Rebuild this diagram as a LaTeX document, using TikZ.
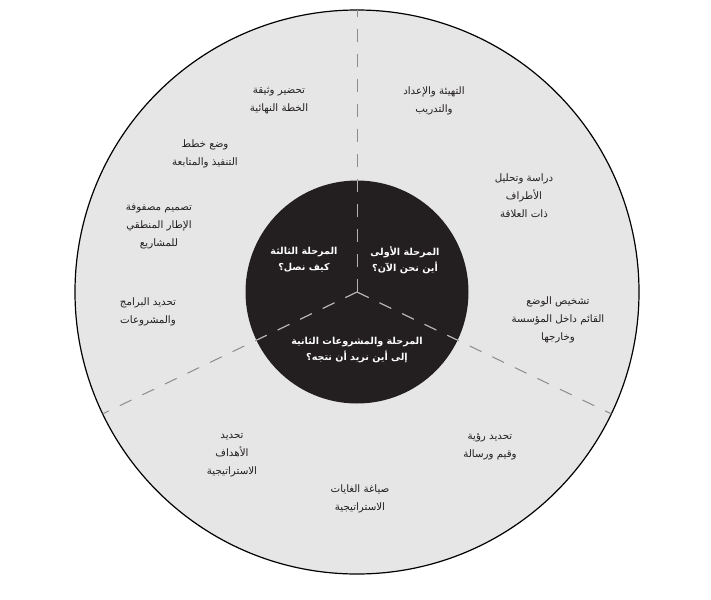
\documentclass[tikz,border=0pt]{standalone}
\usepackage{fontspec}
\usetikzlibrary{calc}
\newfontfamily\arabicfont[Script=Arabic]{DejaVu Sans}
\TeXXeTstate=1
\definecolor{ringfill}{HTML}{E6E6E6}
\definecolor{corefill}{HTML}{231F20}
\definecolor{inkc}{HTML}{231F20}
\definecolor{dashout}{HTML}{8C8C8C}
\definecolor{dashin}{HTML}{B4B4B4}
\tikzset{
  outerlbl/.style={align=center, text=inkc, font=\arabicfont\fontsize{7.7}{13.5}\selectfont, inner sep=0pt},
  innerlbl/.style={align=center, text=white, font=\arabicfont\bfseries\fontsize{7.2}{12}\selectfont, inner sep=0pt},
  divider/.style={line width=0.75pt, dash pattern=on 9.75pt off 9pt},
}
\begin{document}
\begin{tikzpicture}[x=0.75pt,y=-0.75pt]
\useasboundingbox[fill=white] (0,0) rectangle (711,600);
\coordinate (c) at (357,292);
\fill[ringfill, draw=black, line width=0.9pt] (c) circle[radius=282];
\fill[corefill] (c) circle[radius=111.5];
\coordinate (e1) at ($(c)+(-90:282)$);
\coordinate (e2) at ($(c)+(25.6:282)$);
\coordinate (e3) at ($(c)+(154.4:282)$);
\foreach \e in {e1,e2,e3} \draw[divider, dashout] (c) -- (\e);
\begin{scope}
\clip (c) circle[radius=111.5];
\foreach \e in {e1,e2,e3} \draw[divider, dashin] (c) -- (\e);
\end{scope}
% inner labels
\node[innerlbl] (p1) at (405,260) {\beginR المرحلة الأولى\endR\\\beginR أين نحن الآن؟\endR};
\node[innerlbl] (p3) at (304,260) {\beginR المرحلة الثالثة\endR\\\beginR كيف نصل؟\endR};
\node[innerlbl] (p2) at (357,350.5) {\beginR المرحلة والمشروعات الثانية\endR\\\beginR إلى أين نريد أن نتجه؟\endR};
% outer labels
\node[outerlbl] (s1) at (434,101) {\beginR التهيئة والإعداد\endR\\\beginR والتدريب\endR};
\node[outerlbl] (s2) at (524,196) {\beginR دراسة وتحليل\endR\\\beginR الأطراف\endR\\\beginR ذات العلاقة\endR};
\node[outerlbl] (s3) at (558,320) {\beginR تشخيص الوضع\endR\\\beginR القائم داخل المؤسسة\endR\\\beginR وخارجها\endR};
\node[outerlbl] (s4) at (490,446.5) {\beginR تحديد رؤية\endR\\\beginR وقيم ورسالة\endR};
\node[outerlbl] (s5) at (360,499) {\beginR صياغة الغايات\endR\\\beginR الاستراتيجية\endR};
\node[outerlbl] (s6) at (232,455.5) {\beginR تحديد\endR\\\beginR الأهداف\endR\\\beginR الاستراتيجية\endR};
\node[outerlbl] (s7) at (148,311.5) {\beginR تحديد البرامج\endR\\\beginR والمشروعات\endR};
\node[outerlbl] (s8) at (159,226.5) {\beginR تصميم مصفوفة\endR\\\beginR الإطار المنطقي\endR\\\beginR للمشاريع\endR};
\node[outerlbl] (s9) at (205,154) {\beginR وضع خطط\endR\\\beginR التنفيذ والمتابعة\endR};
\node[outerlbl] (s10) at (279,101) {\beginR تحضير وثيقة\endR\\\beginR الخطة النهائية\endR};
\end{tikzpicture}
\end{document}
